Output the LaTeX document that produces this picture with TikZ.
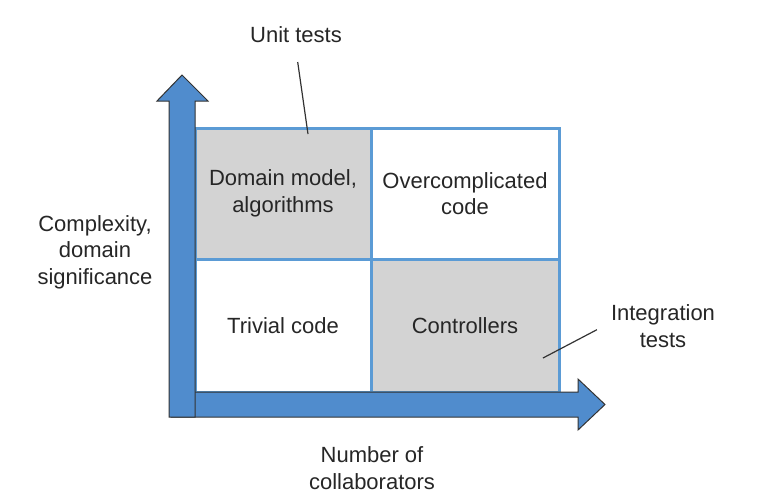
\documentclass[tikz,border=0pt]{standalone}
\usepackage{fontspec}
\setmainfont{Liberation Sans}
\usetikzlibrary{positioning}
\definecolor{axisblue}{RGB}{80,140,205}
\definecolor{gridblue}{RGB}{91,155,213}
\definecolor{cellgray}{RGB}{211,211,211}

\begin{document}
\begin{tikzpicture}[x=0.5pt, y=-0.5pt,
  cell/.style={draw=gridblue, line width=1.5pt, minimum height=65.5pt, inner sep=0pt,
               outer sep=0pt, align=center, font=\fontsize{11}{13.25}\selectfont, text=black!85},
  note/.style={align=center, font=\fontsize{11}{13.25}\selectfont, text=black!85},
  axis/.style={fill=axisblue, draw=black!80, line width=0.5pt},
  lead/.style={draw=black!80, line width=0.6pt}
]
  \useasboundingbox (0,0) rectangle (762,500);
  % quadrants
  \node[cell, fill=cellgray, minimum width=88pt, anchor=north west] (domain) at (195,128) {Domain model,\\algorithms};
  \node[cell, minimum width=94pt, right=0pt of domain] (overcomp) {Overcomplicated\\code};
  \node[cell, minimum width=88pt, minimum height=66.5pt, below=0pt of domain] (trivial) {Trivial code};
  \node[cell, fill=cellgray, minimum width=94pt, minimum height=66.5pt, below=0pt of overcomp] (ctrl) {Controllers};
  % axes
  \draw[axis] (171,392) -- (578,392) -- (578,379) -- (605,404.5) -- (578,430) -- (578,417) -- (171,417) -- cycle;
  \draw[axis] (169,417) -- (169,101) -- (157,101) -- (182,75) -- (208,101) -- (195,101) -- (195,417) -- cycle;
  % labels
  \node[note] (unit) at (296,35) {Unit tests};
  \node[note] (integ) at (663,326) {Integration\\tests};
  \node[note] (complexity) at (95,252) {Complexity,\\domain\\significance};
  \node[note] (collab) at (372,468) {Number of\\collaborators};
  \coordinate (unitend) at (308,134);
  \coordinate (integend) at (543,358);
  \draw[lead, shorten <=6pt] (unit.south) -- (unitend);
  \draw[lead, shorten <=4pt] (integ.west) -- (integend);
\end{tikzpicture}
\end{document}
